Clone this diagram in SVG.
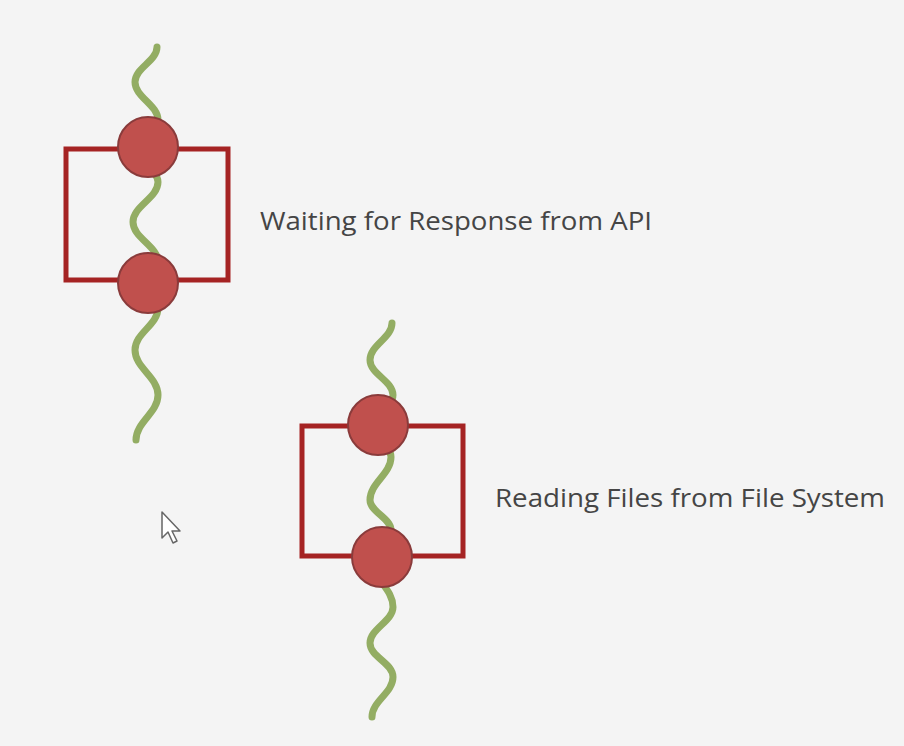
<svg xmlns="http://www.w3.org/2000/svg" width="904" height="746" viewBox="0 0 904 746">
<style>
.wave{fill:none;stroke:#93ad63;stroke-width:7;stroke-linecap:round}
.box{fill:none;stroke:#a52323;stroke-width:5}
.dot{fill:#c0504d;stroke:#8a3b3b;stroke-width:2}
.lbl{font-family:"Open Sans","Liberation Sans",sans-serif;font-size:25px;fill:#454545}
</style>
<rect width="904" height="746" fill="#f4f4f4"/>
<g id="thread1">
<path class="wave" d="M157,47 C157,61 135,68 135,82 C135,97 158,105 158,120 C158,132 134,138 134,150 C134,163 158,169 158,182 C158,198 133,206 133,222 C133,238 158,246 158,262 C158,271 134,275 134,284 C134,294 158,298 158,308 C158,325 135,333 135,350 C135,368 158,377 158,395 C158,413 136,422 136,440"/>
<rect class="box" x="66" y="149" width="162" height="131"/>
<circle class="dot" cx="148" cy="147" r="30"/>
<circle class="dot" cx="148" cy="283" r="30"/>
<text class="lbl" x="260" y="230" textLength="392" lengthAdjust="spacingAndGlyphs">Waiting for Response from API</text>
</g>
<g id="thread2">
<path class="wave" d="M392,323 C392,338 370,345 370,360 C370,374 393,381 393,395 C393,407 371,413 371,425 C371,438 391,444 391,457 C391,474 370,483 370,500 C370,512 391,518 391,530 C391,542 372,548 372,560 C372,579 393,588 393,607 C393,621 370,629 370,643 C370,657 393,663 393,677 C393,693 372,701 372,717"/>
<rect class="box" x="302" y="426" width="161" height="130"/>
<circle class="dot" cx="378" cy="425" r="30"/>
<circle class="dot" cx="382" cy="557" r="30"/>
<text class="lbl" x="495" y="507" textLength="390" lengthAdjust="spacingAndGlyphs">Reading Files from File System</text>
</g>
<g id="connectors"></g>
<path d="M162,512 L162,538 L168,532 L173,543 L177,541 L172,531 L180,531 Z" fill="#ffffff" stroke="#666666" stroke-width="1.5" stroke-linejoin="round"/>
</svg>
